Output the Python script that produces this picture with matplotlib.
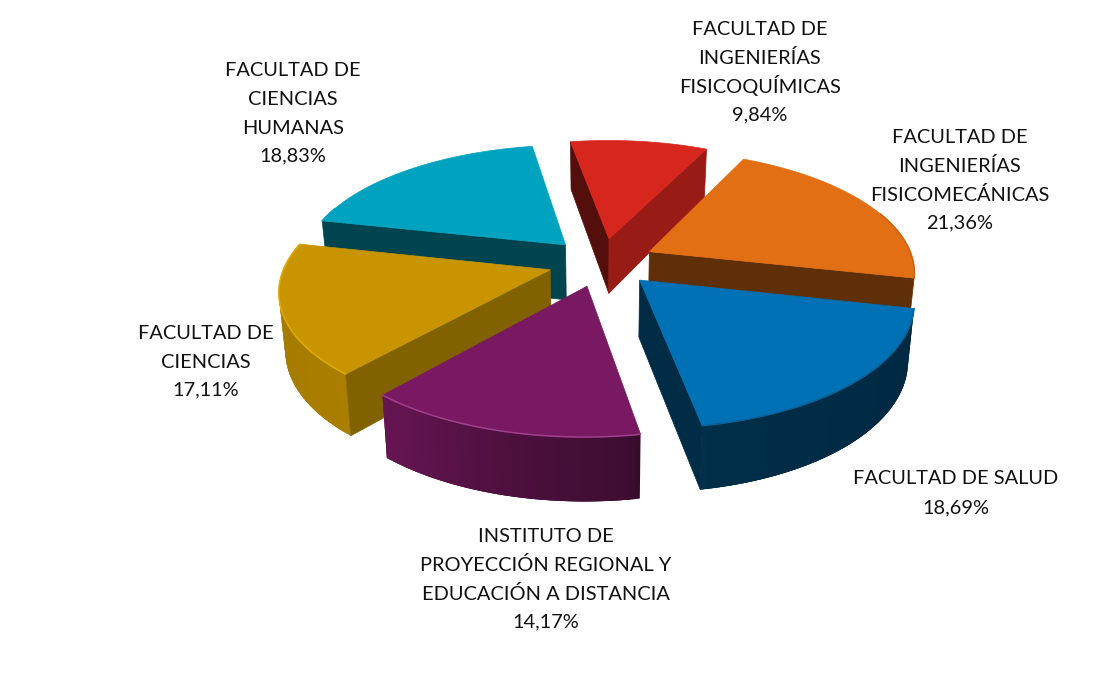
import numpy as np
import matplotlib
matplotlib.use('Agg')
import matplotlib.pyplot as plt
from matplotlib.patches import Polygon

names = [["FACULTAD DE", "INGENIERÍAS", "FISICOQUÍMICAS"], ["FACULTAD DE", "INGENIERÍAS", "FISICOMECÁNICAS"], ["FACULTAD DE SALUD"],
         ["INSTITUTO DE", "PROYECCIÓN REGIONAL Y", "EDUCACIÓN A DISTANCIA"], ["FACULTAD DE", "CIENCIAS"], ["FACULTAD DE", "CIENCIAS", "HUMANAS"]]
values = [9.84, 21.36, 18.69, 14.17, 17.11, 18.83]
colors = ['#D7261E', '#E36F14', '#0071B4', '#781961', '#C89500', '#00A3BF']
rim_colors = ['#D7261E', '#C9610F', '#0A5F96', '#A0408C', '#E0AC00', '#00A3BF']
label_xy = [(760, 35), (960, 143), (956, 484), (546, 542), (206, 339), (293, 76)]
LINE_STEP = 28.9
draw_order = [5, 0, 1, 4, 2, 3]

# projection of the pie plane
CX, CY, RADIUS, ASPECT, PERSP, START, EXPLODE = 601.7, 262.1, 264.3, 0.453, 0.152, -9.67, 0.203
D0, D1, XS = 56, 7, 0.98
ARC = [(100, .36), (168, .40), (172, .52), (190, .62), (220, .85), (282, .8)]
RAD = [(115, .71), (192, .42), (260, .39), (310, .63)]

edges = np.concatenate([[0], np.cumsum(np.array(values) / sum(values) * 360)])


def top(X, Y):
    w = 1 / (1 + PERSP * Y)
    return np.column_stack([CX + RADIUS * X * w, CY - ASPECT * RADIUS * Y * w])


def bottom(X, Y):
    s = top(X, Y)
    s[:, 0] = CX + (s[:, 0] - CX) * XS
    s[:, 1] = s[:, 1] + D0 - D1 * Y
    return s


def area(q):
    x, y = q[:, 0], q[:, 1]
    return 0.5 * np.sum(x * np.roll(y, -1) - np.roll(x, -1) * y)


def shade(deg, table):
    xs, ys = zip(*table)
    return np.interp(deg % 360, xs, ys, period=360)


def dark(c, f):
    return tuple(np.array(matplotlib.colors.to_rgb(c)) * f)


fig = plt.figure(figsize=(11.1, 6.98), dpi=100)
ax = fig.add_axes([0, 0, 1, 1])
ax.set_xlim(0, 1110)
ax.set_ylim(698, 0)
ax.axis('off')

for order, i in enumerate(draw_order):
    z = order * 10
    mid = np.radians(START + (edges[i] + edges[i + 1]) / 2)
    ex, ey = EXPLODE * np.sin(mid), EXPLODE * np.cos(mid)
    th = np.radians(np.linspace(START + edges[i], START + edges[i + 1], 60))
    X, Y = ex + np.sin(th), ey + np.cos(th)
    T, B = top(X, Y), bottom(X, Y)
    At, Ab = top(np.array([ex]), np.array([ey]))[0], bottom(np.array([ex]), np.array([ey]))[0]
    n_strips = len(th) - 1
    for j in range(n_strips):
        k = min(j + 3, len(th) - 1)
        q = np.vstack([T[j:k + 1], B[j:k + 1][::-1]])
        if area(np.array([T[j], T[j + 1], B[j + 1], B[j]])) < 0:
            c = dark(colors[i], shade(np.degrees(th[j]), ARC))
            ax.add_patch(Polygon(q, closed=True, fc=c, ec='none', zorder=z + 1))
    q1 = np.array([At, T[0], B[0], Ab])
    if area(q1) < 0:
        c = dark(colors[i], shade(np.degrees(th[0]) - 90, RAD))
        ax.add_patch(Polygon(q1, closed=True, fc=c, ec=c, lw=.5, zorder=z + 2))
    q2 = np.array([At, T[-1], B[-1], Ab])
    if area(q2) > 0:
        c = dark(colors[i], shade(np.degrees(th[-1]) + 90, RAD))
        ax.add_patch(Polygon(q2, closed=True, fc=c, ec=c, lw=.5, zorder=z + 2))
    ax.add_patch(Polygon(np.vstack([At, T]), closed=True, fc=colors[i], ec=colors[i], lw=.5, zorder=z + 3))
    front = np.cos(th) < 0.35
    ax.plot(T[front, 0], T[front, 1], color=rim_colors[i], lw=1.1, solid_capstyle='round', zorder=z + 4)

for lines, v, (x, y) in zip(names, values, label_xy):
    for k, s in enumerate(lines + [f"{v:.2f}".replace('.', ',') + "%"]):
        ax.text(x, y + k * LINE_STEP - (1.5 if k == len(lines) and k > 1 else 0), s, ha='center', va='baseline',
                family='Lato', fontsize=14.4, color='#111111', zorder=100)

fig.savefig('out.png', dpi=100)
